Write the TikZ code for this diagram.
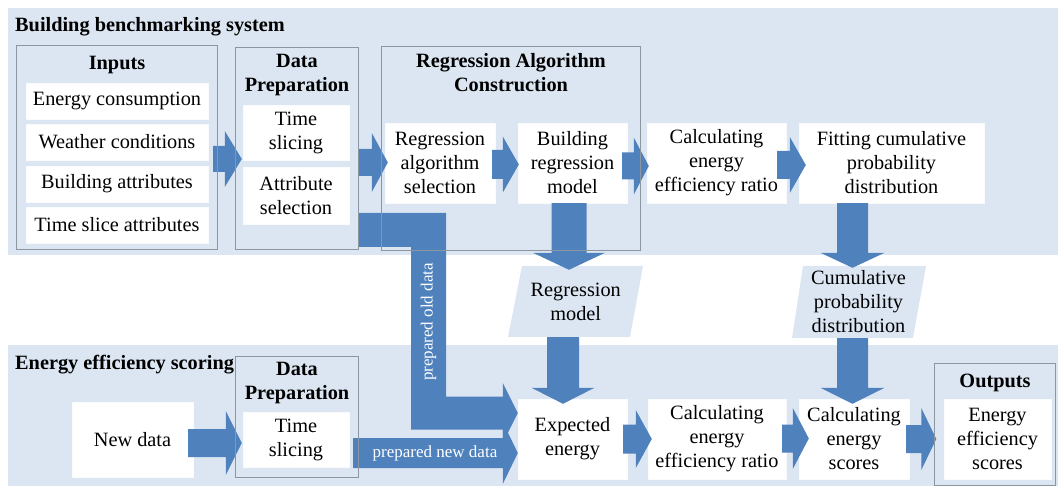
\documentclass[tikz,border=0pt]{standalone}
\usepackage{fontspec}
\setmainfont{Liberation Serif}
\usetikzlibrary{calc}
\definecolor{band}{RGB}{220,230,242}
\definecolor{arrowc}{RGB}{79,129,189}
\definecolor{grpc}{RGB}{140,150,160}
\tikzset{
  base/.style={font=\fontsize{20.3}{24}\selectfont, align=center, inner sep=0pt},
  wbox/.style={base, fill=white, draw=white!85!band},
  ttl/.style={align=center, inner sep=0pt, font=\bfseries\fontsize{20.3}{24}\selectfont},
  grp/.style={draw=grpc, line width=0.8pt},
  ghost/.style={inner sep=0pt},
  lbl/.style={font=\fontsize{17}{20}\selectfont, text=white, inner sep=0pt},
}
% horizontal block arrow: #1 start, #2 tip, #3 shaft half, #4 head half, #5 head length
\newcommand\harrow[5]{\fill[arrowc] let \p1=#1, \p2=#2 in
  (\x1,\y2+#3) -- (\x2-#5,\y2+#3) -- (\x2-#5,\y2+#4) -- (\x2,\y2) --
  (\x2-#5,\y2-#4) -- (\x2-#5,\y2-#3) -- (\x1,\y2-#3) -- cycle;}
% downward block arrow
\newcommand\varrow[5]{\fill[arrowc] let \p1=#1, \p2=#2 in
  (\x2-#3,\y1) -- (\x2-#3,\y2+#5) -- (\x2-#4,\y2+#5) -- (\x2,\y2) --
  (\x2+#4,\y2+#5) -- (\x2+#3,\y2+#5) -- (\x2+#3,\y1) -- cycle;}
\begin{document}
\begin{tikzpicture}[x=1pt,y=-1pt]
\useasboundingbox (0,0) rectangle (1058,486);
% bands
\fill[band] (8,8) rectangle (1058,255);
\fill[band] (8,345) rectangle (1058,486);
% parallelograms
\fill[band] (522,266) -- (643,266) -- (630,337) -- (508,337) -- cycle;
\fill[band] (803,266) -- (926,266) -- (913,338) -- (792,338) -- cycle;
% group frames (drawn later)
\node[ghost, minimum width=200pt, minimum height=203pt] (gIn) at (117,147.5) {};
\node[ghost, minimum width=122pt, minimum height=201pt] (gP1) at (297,148.5) {};
\node[ghost, minimum width=258pt, minimum height=203pt] (gReg) at (511,148.5) {};
\node[ghost, minimum width=122pt, minimum height=120pt] (gP2) at (297,417) {};
\node[ghost, minimum width=120pt, minimum height=121pt] (gOut) at (995,424.5) {};
% titles
\node[ttl, anchor=west] (tTop) at (15,27) {Building benchmarking system};
\node[ttl, anchor=west] (tBot) at (15,365) {Energy efficiency scoring};
\node[ttl] (tIn) at (117,65) {Inputs};
\node[ttl] (tP1) at (297,75) {Data\\Preparation};
\node[ttl] (tReg) at (511,73) {Regression Algorithm\\Construction};
\node[ttl] (tP2) at (297,383) {Data\\Preparation};
\node[ttl] (tOut) at (995,383) {Outputs};
% white boxes
\node[wbox, minimum width=182pt, minimum height=36pt] (in1) at (117,101) {Energy consumption};
\node[wbox, minimum width=182pt, minimum height=36pt] (in2) at (117,142) {Weather conditions};
\node[wbox, minimum width=182pt, minimum height=36pt] (in3) at (117,184) {Building attributes};
\node[wbox, minimum width=182pt, minimum height=36pt] (in4) at (117,225) {Time slice attributes};
\node[wbox, minimum width=106pt, minimum height=55pt] (ts1) at (296,132.5) {Time\\slicing};
\node[wbox, minimum width=106pt, minimum height=57pt] (as1) at (296,195.5) {Attribute\\selection};
\node[wbox, minimum width=110pt, minimum height=80pt] (ras) at (440,163) {Regression\\algorithm\\selection};
\node[wbox, minimum width=109pt, minimum height=80pt] (brm) at (572.5,163) {Building\\regression\\model};
\node[wbox, minimum width=139pt, minimum height=80pt] (cer1) at (716.5,163) {Calculating\\energy\\efficiency ratio};
\node[wbox, minimum width=185pt, minimum height=80pt] (fcp) at (891.5,163) {Fitting cumulative\\probability\\distribution};
\node[base, minimum width=110pt, minimum height=71pt] (rm) at (575.75,301.5) {Regression\\model};
\node[base, minimum width=110pt, minimum height=72pt] (cpd) at (858.5,302) {Cumulative\\probability\\distribution};
\node[wbox, minimum width=121pt, minimum height=75pt] (nd) at (132.5,439.5) {New data};
\node[wbox, minimum width=106pt, minimum height=55pt] (ts2) at (296,439.5) {Time\\slicing};
\node[wbox, minimum width=109pt, minimum height=80pt] (ee) at (572.5,439) {Expected\\energy};
\node[wbox, minimum width=138pt, minimum height=80pt] (cer2) at (717,439) {Calculating\\energy\\efficiency ratio};
\node[wbox, minimum width=110pt, minimum height=80pt] (ces) at (854,439) {Calculating\\energy\\scores};
\node[wbox, minimum width=107pt, minimum height=80pt] (oes) at (997.5,439) {Energy\\efficiency\\scores};
% block arrows
\harrow{($(gIn.east)+(-4,0)$)}{($(gP1.west)+(6,10.5)$)}{13pt}{28pt}{17pt}
\harrow{(gP1.east)}{($(ras.west)+(3,-0.5)$)}{13.5pt}{29.5pt}{16pt}
\harrow{($(ras.east)+(-3,0)$)}{($(brm.west)+(1,1.5)$)}{14.5pt}{28pt}{16pt}
\harrow{($(brm.east)+(-5,0)$)}{($(cer1.west)+(2,3)$)}{13.5pt}{28.5pt}{15pt}
\harrow{($(cer1.east)+(-9,0)$)}{($(fcp.west)+(7,2)$)}{14pt}{28pt}{16pt}
\varrow{(brm.south)}{($(rm.north)+(-6.75,4)$)}{17.5pt}{36pt}{17pt}
\varrow{(rm.south)}{($(ee.north)+(-9.5,5)$)}{16pt}{31.5pt}{16pt}
\varrow{(fcp.south)}{($(cpd.north)+(-6,2)$)}{15.5pt}{32pt}{15pt}
\varrow{(cpd.south)}{($(ces.north)+(-1.5,5)$)}{15.5pt}{32pt}{16pt}
\harrow{($(nd.east)+(-5,0)$)}{($(ts2.west)+(-1,3.5)$)}{14pt}{32pt}{16pt}
\harrow{($(ee.east)+(-4,0)$)}{($(cer2.west)+(4,0)$)}{14.5pt}{29pt}{16pt}
\harrow{($(cer2.east)+(-4,0)$)}{($(ces.west)+(10,-0.5)$)}{14pt}{30.5pt}{16pt}
\harrow{($(ces.east)+(-3,0)$)}{($(oes.west)+(-7.5,0)$)}{14pt}{31pt}{15pt}
% prepared old data (L-shaped)
\coordinate (oldS) at ($(gP1.east)+(1,81.5)$);
\fill[arrowc] let \p1=(oldS), \p2=($(ee.west)+(0,-26)$) in
  (\x1,\y1+17pt) -- (\x1+87pt,\y1+17pt) -- (\x1+87pt,\y2+16.5pt) --
  (\x2-15pt,\y2+16.5pt) -- (\x2-15pt,\y2+30pt) -- (\x2,\y2) --
  (\x2-15pt,\y2-30pt) -- (\x2-15pt,\y2-16.5pt) -- (\x1+52pt,\y2-16.5pt) --
  (\x1+52pt,\y1-17pt) -- (\x1,\y1-17pt) -- cycle;
% prepared new data
\harrow{($(gP2.east)+(-5,0)$)}{($(ee.west)+(0,14)$)}{15pt}{31pt}{15pt}
\node[lbl, rotate=90] (oldlbl) at (428.5,322) {prepared old data};
\node[lbl] (newlbl) at (435,453) {prepared new data};
% group frames
\draw[grp] (gIn.north west) rectangle (gIn.south east);
\draw[grp] (gP1.north west) rectangle (gP1.south east);
\draw[grp] (gReg.north west) rectangle (gReg.south east);
\draw[grp] (gP2.north west) rectangle (gP2.south east);
\draw[grp] (gOut.north west) rectangle (gOut.south east);
\end{tikzpicture}
\end{document}
